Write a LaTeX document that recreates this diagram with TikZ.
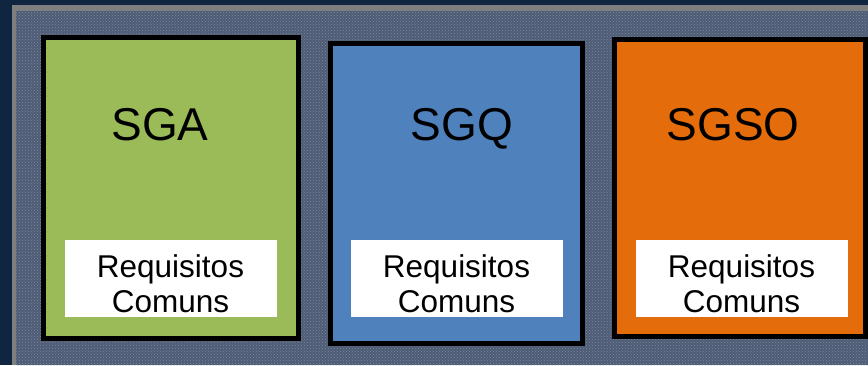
\documentclass[tikz,border=0pt]{standalone}
\usepackage{fontspec}
\setmainfont{Liberation Sans}
\usetikzlibrary{patterns}
\definecolor{navy}{HTML}{10253F}
\definecolor{frame}{HTML}{7F7F7F}
\definecolor{panel}{HTML}{4E5C75}
\definecolor{paneldots}{HTML}{7A879C}
\definecolor{sgagreen}{HTML}{9BBB59}
\definecolor{sgqblue}{HTML}{4F81BD}
\definecolor{sgsoorange}{HTML}{E46C0A}
\tikzset{
    sysbox/.style={draw=black, line width=5pt, inner sep=0pt},
    reqbox/.style={fill=white, inner sep=0pt, minimum width=212pt, minimum height=77pt},
    reqtext/.style={align=center, font=\fontsize{31.5}{35}\selectfont},
    systext/.style={anchor=base, font=\fontsize{46}{50}\selectfont}
}
\begin{document}
\begin{tikzpicture}[x=1pt, y=-1pt]
    \fill[navy] (0, 0) rectangle (868, 365);
    \fill[frame] (12, 5) rectangle (868, 365);
    \fill[panel] (16, 11) rectangle (868, 365);
    \fill[pattern=crosshatch dots, pattern color=paneldots] (16, 11) rectangle (868, 365);
    \useasboundingbox (0, 0) rectangle (868, 365);

    \node[sysbox, fill=sgagreen, minimum width=255pt, minimum height=301pt] (SGA) at (171, 188) {};
    \node[sysbox, fill=sgqblue, minimum width=252pt, minimum height=300pt] (SGQ) at (456.5, 193.5) {};
    \node[sysbox, fill=sgsoorange, minimum width=251pt, minimum height=297pt] (SGSO) at (740, 188) {};

    \node[systext] (SGAlabel) at (160, 140) {SGA};
    \node[systext] (SGQlabel) at (462, 140) {SGQ};
    \node[systext] (SGSOlabel) at (733, 140) {SGSO};

    \node[reqbox] (SGAreq) at (170.5, 278) {};
    \node[reqbox] (SGQreq) at (456.5, 278.5) {};
    \node[reqbox] (SGSOreq) at (741.5, 278.5) {};

    \node[reqtext] at (170.5, 284) {Requisitos\\Comuns};
    \node[reqtext] at (456.5, 284) {Requisitos\\Comuns};
    \node[reqtext] at (741.5, 284) {Requisitos\\Comuns};
\end{tikzpicture}
\end{document}
